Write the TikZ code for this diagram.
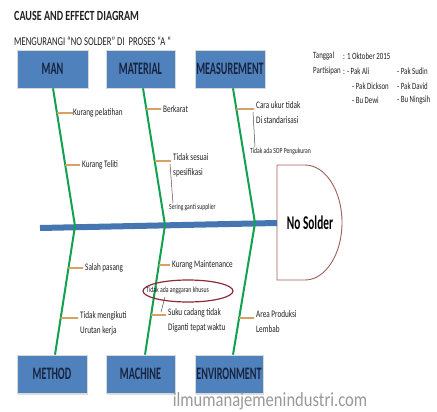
\documentclass[tikz,border=0pt]{standalone}
\usepackage{fontspec}
\setmainfont{Carlito}[FakeStretch=0.72]
\newfontfamily\fb{Carlito}[FakeStretch=0.58]
\newfontfamily\fw{Carlito}[FakeStretch=0.83]
\usetikzlibrary{shadows}
\definecolor{boxblue}{HTML}{4F81BD}
\definecolor{boxtext}{HTML}{17233F}
\definecolor{spineblue}{HTML}{4676B2}
\definecolor{bonegreen}{HTML}{12A150}
\definecolor{tickc}{HTML}{D6A263}
\definecolor{ellc}{HTML}{8E2A3A}
\definecolor{headc}{HTML}{A0605A}
\definecolor{txt}{HTML}{202020}
\begin{document}
\begin{tikzpicture}[x=1pt,y=-1pt,
  catbox/.style={draw=white!85!black, line width=0.6pt, fill=boxblue, minimum width=71pt, minimum height=38pt, inner sep=0pt,
     font=\fb\fontsize{17.5}{18}\selectfont\bfseries, text=boxtext,
     drop shadow={shadow xshift=1pt, shadow yshift=-1.5pt, fill=black!25}},
  bone/.style={draw=bonegreen, line width=2pt},
  spine/.style={draw=spineblue, line width=6pt},
  tick/.style={draw=tickc, line width=1.8pt},
  lbl/.style={anchor=west, inner sep=0pt, text=txt, font=\fontsize{10}{15}\selectfont},
  mlbl/.style={anchor=north west, inner sep=0pt, text=txt, align=left, font=\fontsize{10}{15}\selectfont},
  tiny/.style={anchor=west, inner sep=0pt, text=txt, font=\fontsize{7.8}{9}\selectfont},
  info/.style={anchor=west, inner sep=0pt, text=txt, font=\fontsize{9.5}{11}\selectfont},
  callout/.style={draw=black!70, line width=0.5pt}]
\useasboundingbox (0,0) rectangle (437,412);
\fill[white] (0,0) rectangle (437,412);

% titles
\node[anchor=west, inner sep=0pt, text=txt, font=\fontsize{14}{16}\selectfont\bfseries] (title) at (14,16) {CAUSE AND EFFECT DIAGRAM};
\node[anchor=west, inner sep=0pt, text=txt, font=\fontsize{12}{14}\selectfont] (subtitle) at (14,41) {MENGURANGI “NO SOLDER” DI\ \ PROSES “A “};

% info
\node[info] (tg) at (313,56) {Tanggal};
\node[info] (tgv) at (343,56) {: 1 Oktober 2015};
\node[info] (pt) at (313,71) {Partisipan};
\node[info] (p1) at (343,71) {: - Pak Ali};
\node[info] (p2) at (352,86) {- Pak Dickson};
\node[info] (p3) at (352,100) {- Bu Dewi};
\node[info] (p4) at (397,71) {- Pak Sudin};
\node[info] (p5) at (397,86) {- Pak David};
\node[info] (p6) at (397,100) {- Bu Ningsih};

% category boxes
\node[catbox] (man) at (52.5,69) {MAN};
\node[catbox, minimum width=69pt] (material) at (140.5,69) {MATERIAL};
\node[catbox, minimum width=70pt] (measure) at (230,69) {MEASUREMENT};
\node[catbox, minimum width=70pt] (method) at (52,374) {METHOD};
\node[catbox, minimum width=69pt] (machine) at (140.5,374) {MACHINE};
\node[catbox, minimum width=68pt] (environ) at (229,374) {ENVIRONMENT};

% head
\draw[headc, line width=0.9pt, fill=white] (277,165) -- (305,165) arc[start angle=-90, end angle=90, x radius=37, y radius=57.5] -- (277,280) -- cycle;
\node[inner sep=0pt, text=black, font=\fb\fontsize{19.5}{21}\selectfont\bfseries] (effect) at (310,223) {No Solder};

% spine
\coordinate (tail) at (40,228);
\coordinate (headleft) at (277,223);
\draw[spine] (tail) -- (headleft);

% bones
\coordinate (j1) at (75,226);
\coordinate (j2) at (165,225);
\coordinate (j3) at (255,223);
\coordinate (t1) at ([xshift=0.5pt]man.south);
\coordinate (t2) at ([xshift=2.5pt]material.south);
\coordinate (t3) at ([xshift=3pt]measure.south);
\coordinate (b1) at ([xshift=3pt]method.north);
\coordinate (b2) at ([xshift=4.5pt]machine.north);
\coordinate (b3) at ([xshift=4pt]environ.north);
\draw[bone] (t1) -- (j1) -- (b1);
\draw[bone] (t2) -- (j2) -- (b2);
\draw[bone] (t3) -- (j3) -- (b3);

% causes: MAN
\node[lbl] (c1) at (73,113) {Kurang pelatihan};
\draw[tick] (intersection of t1--j1 and c1.west--c1.east) -- (c1.west);
\node[lbl] (c2) at (82,165) {Kurang Teliti};
\draw[tick] (intersection of t1--j1 and c2.west--c2.east) -- ([xshift=-2pt]c2.west);

% MATERIAL
\node[lbl] (c3) at (163,109) {Berkarat};
\draw[tick] (intersection of t2--j2 and c3.west--c3.east) -- ([xshift=-2pt]c3.west);
\node[mlbl] (c4) at (173,153) {Tidak sesuai\\spesifikasi};
\coordinate (c4l) at (173,161);
\coordinate (c4r) at (180,161);
\draw[tick] (intersection of t2--j2 and c4l--c4r) -- ([xshift=-2pt]c4l);
\node[tiny] (c4s) at (169,207) {Sering ganti supplier};
\coordinate (c4a) at (170,164);
\draw[callout] (c4a) -- ([xshift=4pt]c4s.north west);

% MEASUREMENT
\node[mlbl] (c5) at (256,101) {Cara ukur tidak\\Di standarisasi};
\coordinate (c5l) at (256,109);
\coordinate (c5r) at (260,109);
\draw[tick] (intersection of t3--j3 and c5l--c5r) -- ([xshift=-2pt]c5l);
\node[tiny] (c5s) at (250,151) {Tidak ada SOP Pengukuran};
\coordinate (c5a) at (253,112);
\draw[callout] (c5a) -- ([xshift=5pt]c5s.north west);

% METHOD
\node[lbl] (c6) at (85,268) {Salah pasang};
\draw[tick] (intersection of j1--b1 and c6.west--c6.east) -- ([xshift=-2pt]c6.west);
\node[mlbl] (c7) at (80,311) {Tidak mengikuti\\Urutan kerja};
\coordinate (c7l) at (80,318);
\coordinate (c7r) at (85,318);
\draw[tick] (intersection of j1--b1 and c7l--c7r) -- ([xshift=-2pt]c7l);

% MACHINE
\node[lbl] (c8) at (172,265) {Kurang Maintenance};
\draw[tick] (intersection of j2--b2 and c8.west--c8.east) -- ([xshift=-2pt]c8.west);
\node[tiny, font=\fontsize{8}{9}\selectfont] (c8s) at (146,290) {Tidak ada anggaran khusus};
\draw[ellc, line width=1.2pt] (188,291) ellipse[x radius=45, y radius=11];
\node[mlbl] (c9) at (168,308) {Suku cadang tidak\\Diganti tepat waktu};
\coordinate (c9l) at (168,315);
\coordinate (c9r) at (172,315);
\draw[tick] (intersection of j2--b2 and c9l--c9r) -- ([xshift=-2pt]c9l);
\coordinate (c9a) at (165,297);
\coordinate (c9b) at (161,312);
\draw[callout] (c9a) -- (c9b);

% ENVIRONMENT
\node[mlbl] (c10) at (256,310) {Area Produksi\\Lembab};
\coordinate (c10l) at (256,318);
\coordinate (c10r) at (260,318);
\draw[tick] (intersection of j3--b3 and c10l--c10r) -- ([xshift=-2pt]c10l);

% watermark
\node[inner sep=0pt, text=black!40, font=\fw\fontsize{20}{22}\selectfont] (wm) at (270,401) {ilmumanajemenindustri.com};
\end{tikzpicture}
\end{document}
